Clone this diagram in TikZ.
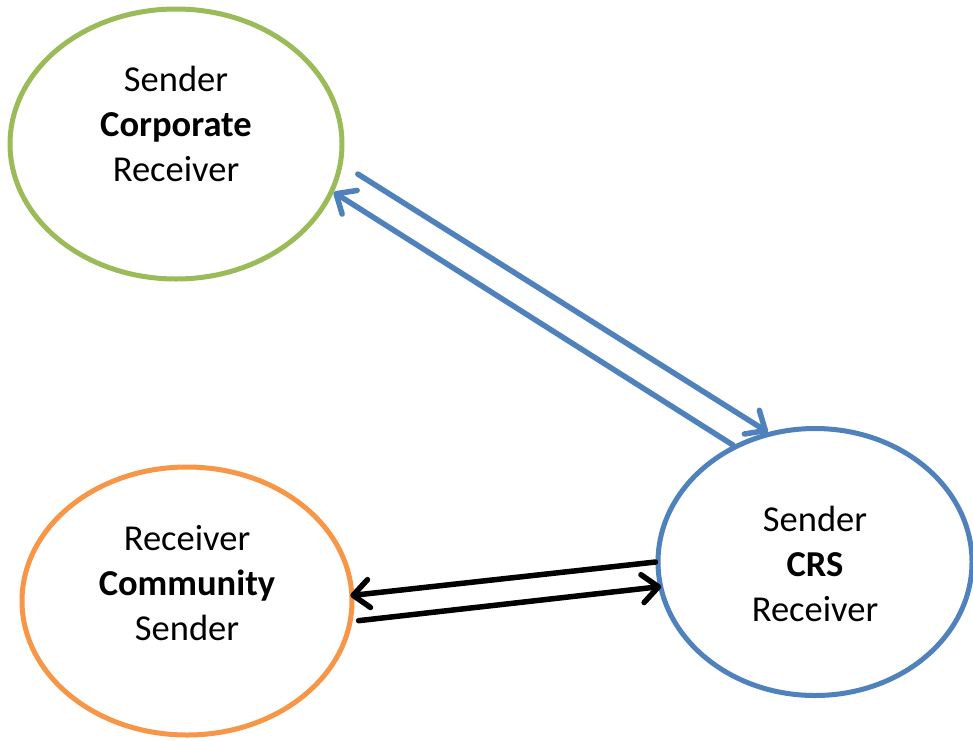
\documentclass[tikz,border=0pt]{standalone}
\usepackage{fontspec}
\setmainfont{Carlito}
\usetikzlibrary{shapes.geometric,arrows.meta}
\definecolor{grnline}{HTML}{9BBB59}
\definecolor{orgline}{HTML}{F79646}
\definecolor{bluline}{HTML}{4F81BD}
\tikzset{
  party/.style={ellipse, draw, line width=5pt, inner sep=0pt, fill=white},
  partytext/.style={align=center, inner sep=0pt, font=\fontsize{36.5}{45}\selectfont},
  flow/.style={line width=5.5pt, line cap=round,
    -{Straight Barb[length=16pt,width=28pt,line width=5.5pt,line cap=round,line join=round]}},
}
\begin{document}
\begin{tikzpicture}[x=1pt,y=-1pt]
\useasboundingbox (0,0) rectangle (973,740);

% the three parties
\node[party, draw=grnline, minimum width=332pt, minimum height=270pt] (corp) at (176,144) {};
\node[party, draw=orgline, minimum width=330pt, minimum height=268pt] (comm) at (187,601) {};
\node[party, draw=bluline, minimum width=314pt, minimum height=267pt] (crs) at (815,562) {};

\node[partytext] (corptext) at (176,124) {Sender\\\textbf{Corporate}\\Receiver};
\node[partytext] (commtext) at (187,583) {Receiver\\\textbf{Community}\\Sender};
\node[partytext] (crstext) at (815,564) {Sender\\\textbf{CRS}\\Receiver};

% corporate <-> CRS
\draw[flow, draw=bluline, shorten <=18pt] (corp.-7.5) -- (crs.110.4);
\draw[flow, draw=bluline] (crs.125.8) -- (corp.-17.8);

% community <-> CRS
\draw[flow, black, shorten >=-4pt] (crs.180) -- (comm.2.4);
\draw[flow, black, shorten <=6pt, shorten >=-3pt] (comm.-7.7) -- (crs.189);
\end{tikzpicture}
\end{document}
